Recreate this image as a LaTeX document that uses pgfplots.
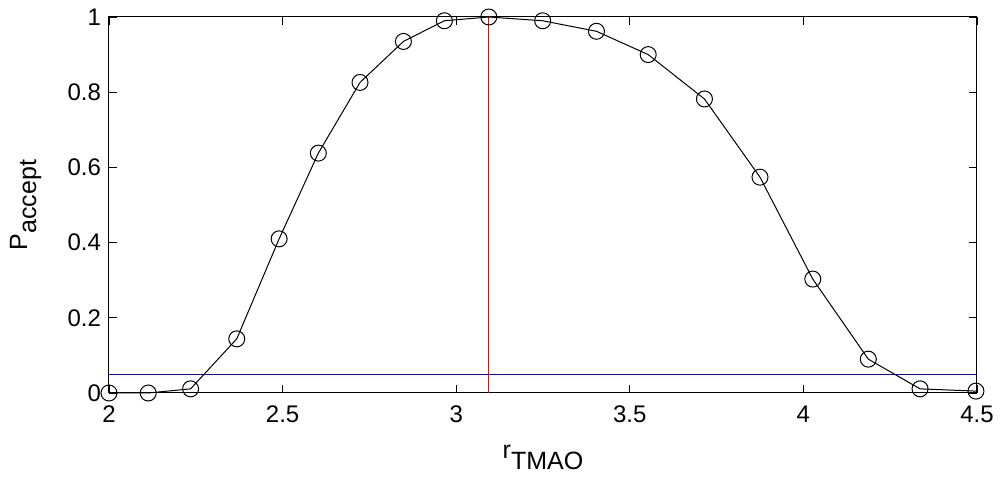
\documentclass[border=0pt]{standalone}
\usepackage{fontspec}
\setmainfont{Liberation Sans}
\usepackage{pgfplots}
\pgfplotsset{compat=1.18}
\begin{document}
\begin{tikzpicture}
\path[use as bounding box] (-54.5pt,-231.5pt) rectangle (447pt,8.5pt);
\begin{axis}[
  at={(0pt,-188pt)}, anchor=south west,
  scale only axis, width=434pt, height=188pt,
  xmin=2, xmax=4.5, ymin=0, ymax=1,
  xtick={2,2.5,...,4.5}, ytick={0,0.2,...,1},
  xticklabels={2,2.5,3,3.5,4,4.5},
  yticklabels={0,0.2,0.4,0.6,0.8,1},
  tick align=inside, major tick length=4pt,
  tick style={black, line width=0.4pt},
  axis line style={black, line width=0.5pt},
  /pgf/number format/assume math mode=true,
  tick label style={font=\fontsize{12}{14}\selectfont},
  x tick label style={yshift=-3pt},
  y tick label style={xshift=-0.5pt},
  xlabel={r\raisebox{-5.5pt}{TMAO}},
  ylabel={P\raisebox{-4.5pt}{accept}},
  label style={font=\fontsize{12.5}{15}\selectfont},
  xlabel style={at={(axis description cs:0.5,0)}, anchor=center, yshift=-32pt},
  ylabel style={at={(axis description cs:-0.096,0.5)}, anchor=center, rotate=0},
  clip=false,
]
\addplot[blue, line width=0.5pt] coordinates {(2,0.05) (4.5,0.05)};
\addplot[red, line width=0.6pt] coordinates {(3.094,0) (3.094,1)};
\addplot[black, line width=0.5pt, mark=o, mark size=4pt, mark options={line width=0.5pt}] coordinates {
(2.000,0.000)
(2.113,0.000)
(2.235,0.011)
(2.368,0.144)
(2.490,0.410)
(2.603,0.638)
(2.723,0.826)
(2.848,0.935)
(2.966,0.990)
(3.094,1.000)
(3.249,0.990)
(3.404,0.962)
(3.553,0.900)
(3.715,0.782)
(3.875,0.574)
(4.027,0.303)
(4.187,0.090)
(4.336,0.011)
(4.497,0.005)
};
\end{axis}
\end{tikzpicture}
\end{document}
